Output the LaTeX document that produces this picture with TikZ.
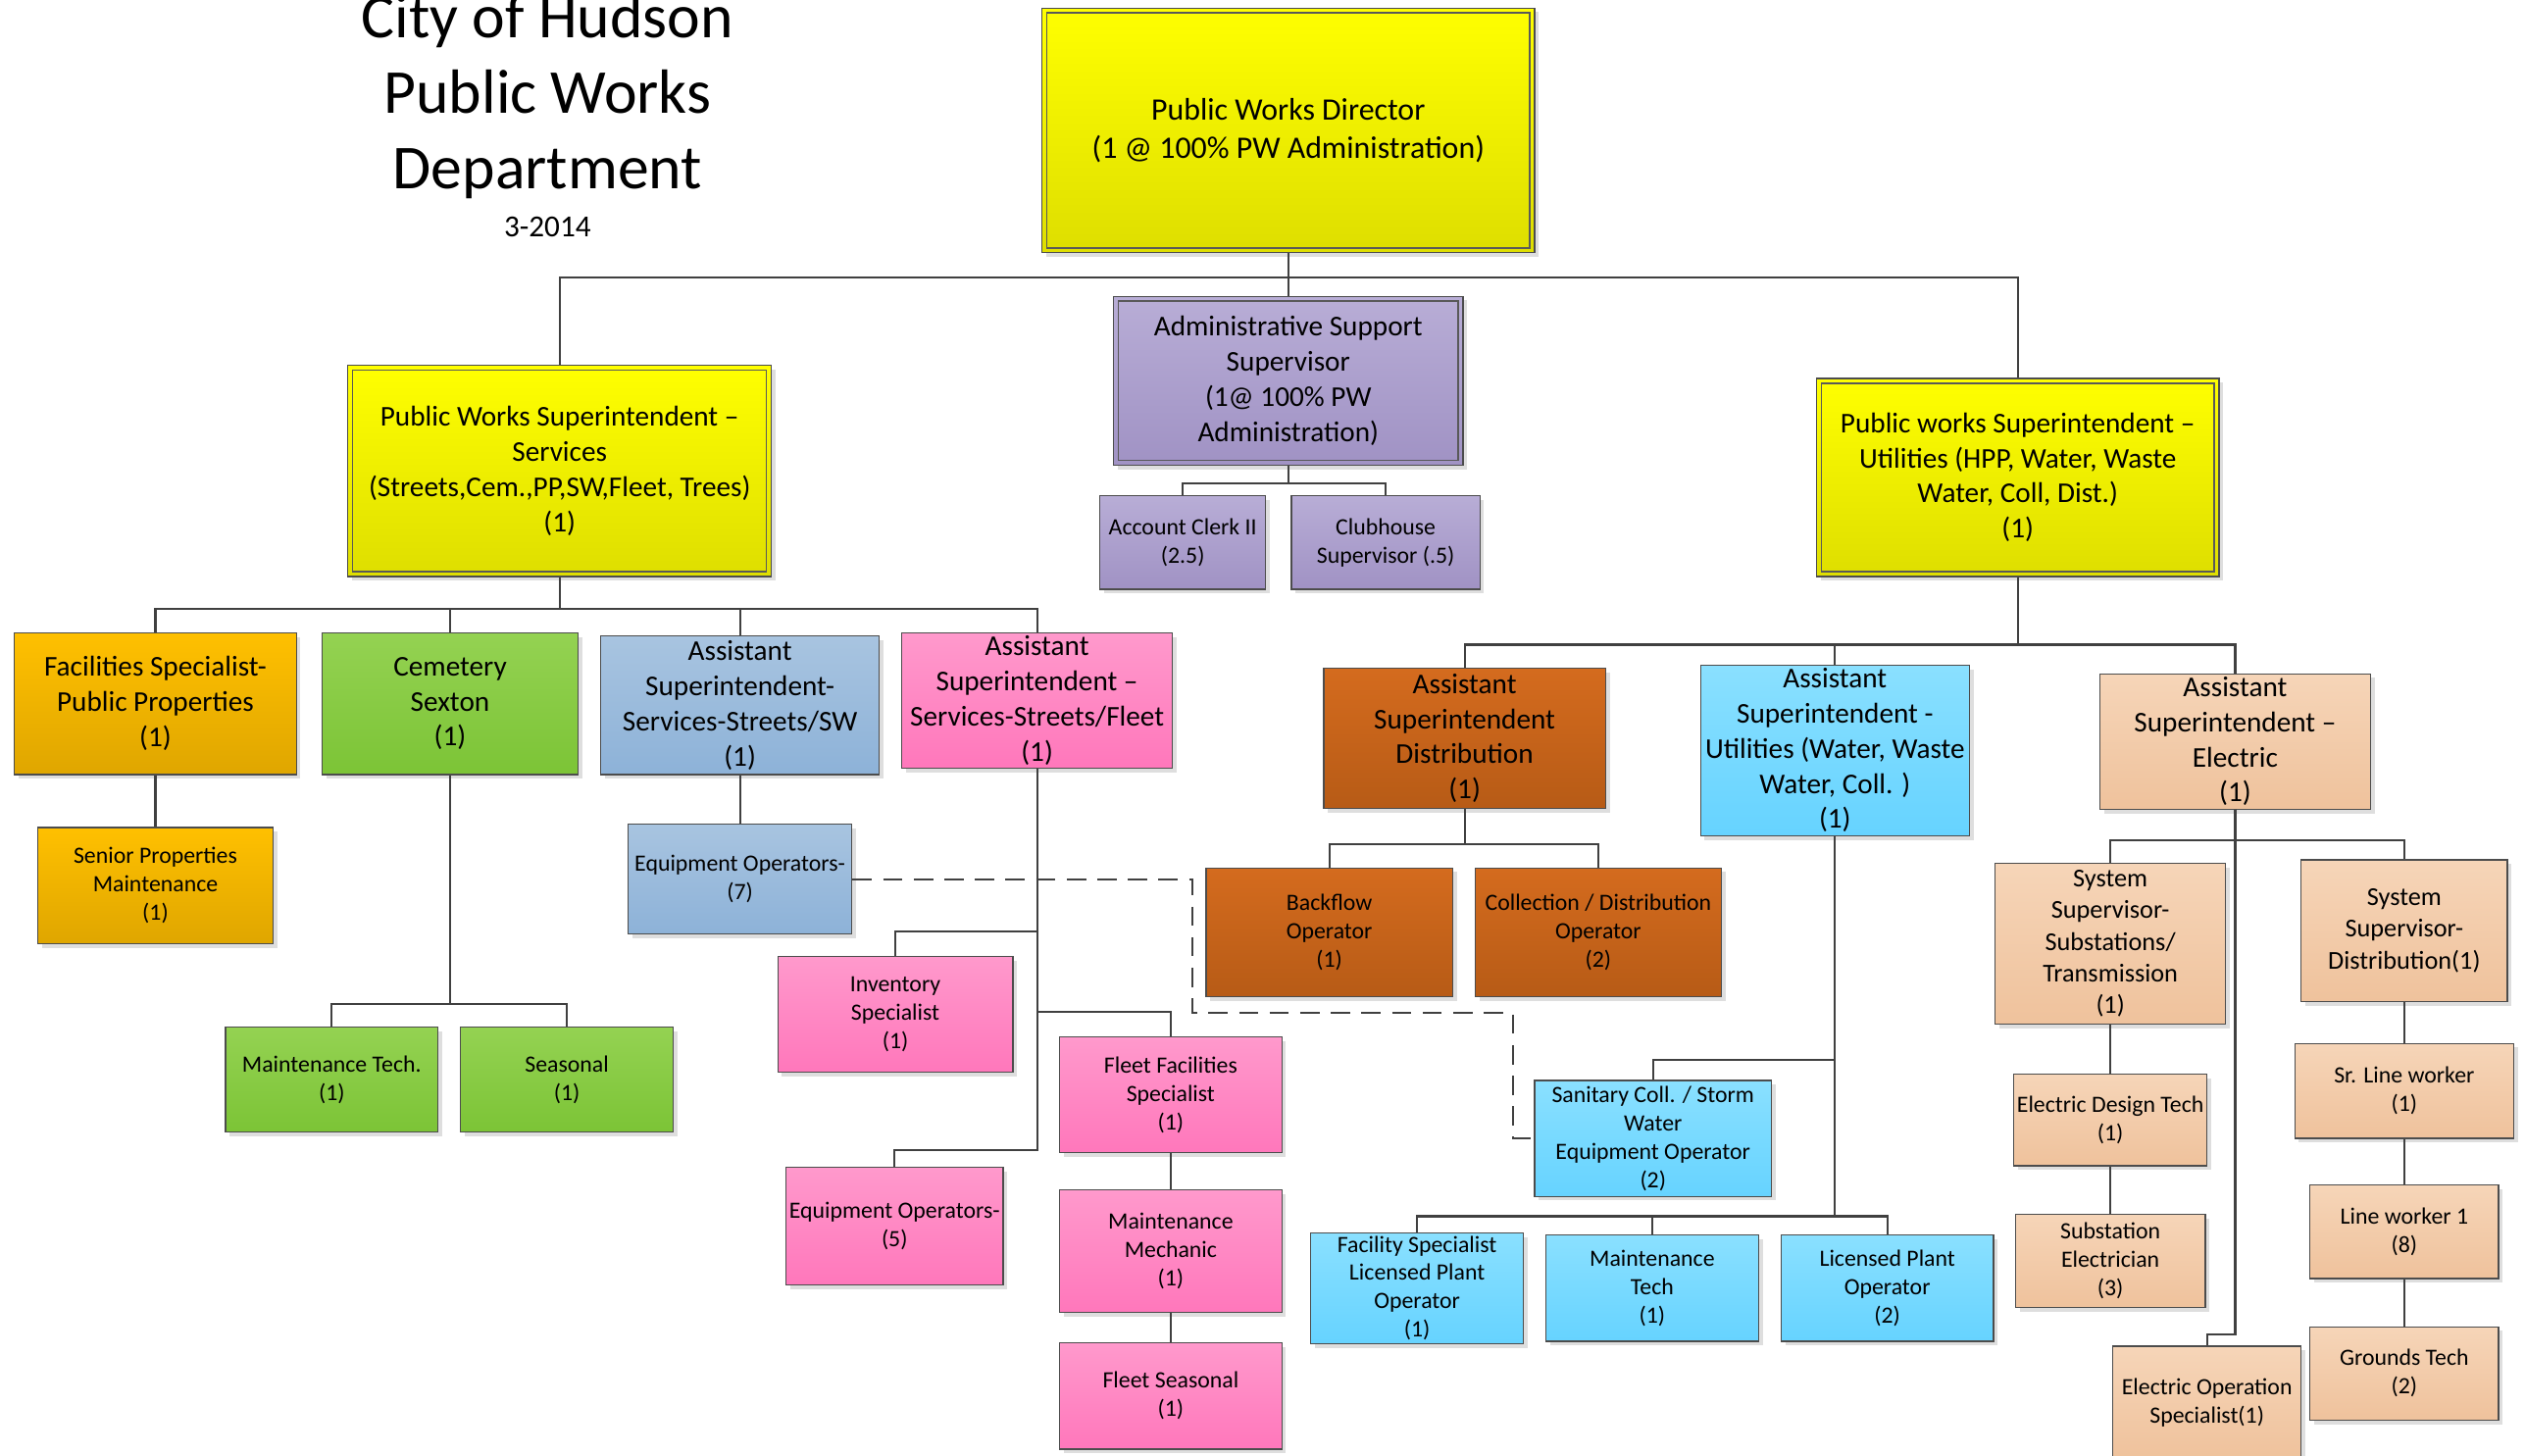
\documentclass[tikz,border=0pt]{standalone}
\usepackage{fontspec}
\setmainfont{Carlito}
\usetikzlibrary{shadows}

\definecolor{ylwTop}{HTML}{FFFF00}
\definecolor{ylwBot}{HTML}{DEDE00}
\definecolor{pplTop}{HTML}{B8ADD6}
\definecolor{pplBot}{HTML}{A092C4}
\definecolor{orgTop}{HTML}{FFC000}
\definecolor{orgBot}{HTML}{DFA600}
\definecolor{grnTop}{HTML}{94D252}
\definecolor{grnBot}{HTML}{7CC436}
\definecolor{bluTop}{HTML}{A8C4E0}
\definecolor{bluBot}{HTML}{8DB2D8}
\definecolor{pnkTop}{HTML}{FF99CC}
\definecolor{pnkBot}{HTML}{FF77BB}
\definecolor{brnTop}{HTML}{D46B1E}
\definecolor{brnBot}{HTML}{B75B16}
\definecolor{cynTop}{HTML}{8AE0FF}
\definecolor{cynBot}{HTML}{66D3FF}
\definecolor{pchTop}{HTML}{F6D5B8}
\definecolor{pchBot}{HTML}{EFC29C}

\begin{document}
\begin{tikzpicture}[
    x=0.5pt, y=-0.5pt,
    box/.style={draw=black!70, line width=0.4pt, align=center, inner sep=1pt,
        drop shadow={shadow xshift=1.3pt, shadow yshift=-1.3pt, fill=black!13, opacity=1}},
    wh/.style 2 args={minimum width=#1*0.5pt, minimum height=#2*0.5pt},
    big/.style={font=\fontsize{9.7}{12}\selectfont},
    mid/.style={font=\fontsize{8.9}{10.9}\selectfont},
    mdl/.style={font=\fontsize{8}{9.8}\selectfont},
    sml/.style={font=\fontsize{7.25}{8.8}\selectfont},
    dbl/.style={path picture={\draw[black!65, line width=0.4pt]
        ([xshift=1.5pt,yshift=-1.5pt]path picture bounding box.north west) rectangle
        ([xshift=-1.5pt,yshift=1.5pt]path picture bounding box.south east);}},
    ylw/.style={box, dbl, top color=ylwTop, bottom color=ylwBot},
    ppl/.style={box, top color=pplTop, bottom color=pplBot},
    org/.style={box, top color=orgTop, bottom color=orgBot},
    grn/.style={box, top color=grnTop, bottom color=grnBot},
    blu/.style={box, top color=bluTop, bottom color=bluBot},
    pnk/.style={box, top color=pnkTop, bottom color=pnkBot},
    brn/.style={box, top color=brnTop, bottom color=brnBot},
    cyn/.style={box, top color=cynTop, bottom color=cynBot},
    pch/.style={box, top color=pchTop, bottom color=pchBot},
    link/.style={draw=black!75, line width=0.65pt},
    dlink/.style={link, dash pattern=on 6pt off 3.5pt}
]
    \useasboundingbox (0,0) rectangle (1568,904);

    % title
    \node[align=center, font=\fontsize{19.4}{23.5}\selectfont] (ttl) at (340,60) {City of Hudson\\Public Works\\Department};
    \node[font=\fontsize{9.5}{11}\selectfont] (date) at (340,141) {3-2014};

    % top level
    \node[ylw, big, wh={306}{152}] (dir) at (800,81) {Public Works Director\\(1 @ 100\% PW Administration)};
    \node[ppl, dbl, mid, wh={217}{105}] (adm) at (800,236.5) {Administrative Support\\Supervisor\\(1@ 100\% PW\\Administration)};
    \node[ylw, mid, wh={263}{131}] (svc) at (347.5,292.5) {Public Works Superintendent –\\Services\\(Streets,Cem.,PP,SW,Fleet, Trees)\\(1)};
    \node[ylw, mid, wh={250}{123}] (utl) at (1253,296.5) {Public works Superintendent –\\Utilities (HPP, Water, Waste\\Water, Coll, Dist.)\\(1)};
    \node[ppl, sml, wh={103}{58}] (acl) at (734.5,337) {Account Clerk II\\(2.5)};
    \node[ppl, sml, wh={117}{58}] (clb) at (860.5,337) {Clubhouse\\Supervisor (.5)};

    % services side
    \node[org, mid, wh={175}{88}] (fac) at (96.5,437) {Facilities Specialist-\\Public Properties\\(1)};
    \node[grn, mid, wh={159}{88}] (cem) at (279.5,437) {Cemetery\\Sexton\\(1)};
    \node[blu, mid, wh={173}{86}] (asw) at (459.5,438) {Assistant\\Superintendent-\\Services-Streets/SW\\(1)};
    \node[pnk, mid, wh={168}{84}] (asf) at (644,435) {Assistant\\Superintendent –\\Services-Streets/Fleet\\(1)};
    \node[org, sml, wh={146}{72}] (spm) at (96.5,550) {Senior Properties\\Maintenance\\(1)};
    \node[grn, sml, wh={132}{65}] (mtc) at (206,670.5) {Maintenance Tech.\\(1)};
    \node[grn, sml, wh={132}{65}] (sea) at (352,670.5) {Seasonal\\(1)};
    \node[blu, sml, wh={139}{68}] (eq7) at (459.5,546) {Equipment Operators-\\(7)};
    \node[pnk, sml, wh={146}{72}] (inv) at (556,630) {Inventory\\Specialist\\(1)};
    \node[pnk, sml, wh={138}{72}] (ffs) at (727,680) {Fleet Facilities\\Specialist\\(1)};
    \node[pnk, sml, wh={135}{73}] (eq5) at (555.5,761.5) {Equipment Operators-\\(5)};
    \node[pnk, sml, wh={138}{76}] (mmc) at (727,777) {Maintenance\\Mechanic\\(1)};
    \node[pnk, sml, wh={138}{66}] (fse) at (727,867) {Fleet Seasonal\\(1)};

    % utilities side
    \node[brn, mid, wh={175}{87}] (dst) at (909.5,458.5) {Assistant\\Superintendent\\Distribution\\(1)};
    \node[cyn, mid, wh={167}{102}] (wat) at (1139.5,466) {Assistant\\Superintendent -\\Utilities (Water, Waste\\Water, Coll. )\\(1)};
    \node[pch, mid, wh={168}{83}] (ele) at (1388,460.5) {Assistant\\Superintendent –\\Electric\\(1)};
    \node[brn, sml, wh={153}{80}] (bfo) at (825.5,579) {Backflow\\Operator\\(1)};
    \node[brn, sml, wh={153}{80}] (cdo) at (992.5,579) {Collection / Distribution\\Operator\\(2)};
    \node[cyn, sml, wh={147}{72}] (san) at (1026.5,707) {Sanitary Coll. / Storm\\Water\\Equipment Operator\\(2)};
    \node[cyn, sml, wh={132}{66}] (fsl) at (880,800) {Facility Specialist\\Licensed Plant\\Operator\\(1)};
    \node[cyn, sml, wh={132}{66}] (mtt) at (1026,800) {Maintenance\\Tech\\(1)};
    \node[cyn, sml, wh={132}{66}] (lpo) at (1172,800) {Licensed Plant\\Operator\\(2)};
    \node[pch, mdl, wh={143}{100}] (sss) at (1310.5,586) {System\\Supervisor-\\Substations/\\Transmission\\(1)};
    \node[pch, mdl, wh={128}{88}] (ssd) at (1493,578) {System\\Supervisor-\\Distribution(1)};
    \node[pch, sml, wh={119}{57}] (edt) at (1310.5,695.5) {Electric Design Tech\\(1)};
    \node[pch, sml, wh={118}{58}] (sbe) at (1310.5,783) {Substation\\Electrician\\(3)};
    \node[pch, sml, wh={136}{59}] (slw) at (1493,677.5) {Sr. Line worker\\(1)};
    \node[pch, sml, wh={117}{58}] (lw1) at (1493,765) {Line worker 1\\(8)};
    \node[pch, sml, wh={117}{58}] (grt) at (1493,853) {Grounds Tech\\(2)};
    \node[pch, sml, wh={117}{70}] (eos) at (1370.5,871) {Electric Operation\\Specialist(1)};

    % connectors
    \draw[link] (dir.south) -- ++(0,15) -| (svc.north);
    \draw[link] (dir.south) -- ++(0,15) -| (utl.north);
    \draw[link] (dir.south) -- (adm.north);
    \draw[link] (adm.south) -- ++(0,11) -| (acl.north);
    \draw[link] (adm.south) -- ++(0,11) -| (clb.north);

    \foreach \k in {fac,cem,asw,asf}
        \draw[link] (svc.south) -- ++(0,20) -| (\k.north);
    \draw[link] (fac) -- (spm);
    \draw[link] (cem.south) -- ++(0,142) -| (mtc.north);
    \draw[link] (cem.south) -- ++(0,142) -| (sea.north);
    \draw[link] (asw) -- (eq7);
    \draw[link] (asf.south) -- ++(0,101) -| (inv.north);
    \draw[link] (asf.south) -- ++(0,151) -| (ffs.north);
    \draw[link] (asf.south) -- ++(0,237) -| (eq5.north);
    \draw[link] (ffs) -- (mmc) -- (fse);

    \foreach \k in {dst,wat,ele}
        \draw[link] (utl.south) -- ++(0,42) -| (\k.north);
    \draw[link] (dst.south) -- ++(0,22) -| (bfo.north);
    \draw[link] (dst.south) -- ++(0,22) -| (cdo.north);
    \draw[link] (wat.south) -- ++(0,139) -| (san.north);
    \foreach \k in {fsl,mtt,lpo}
        \draw[link] (wat.south) -- ++(0,236) -| (\k.north);
    \draw[link] (ele.south) -- ++(0,19) -| (sss.north);
    \draw[link] (ele.south) -- ++(0,19) -| (ssd.north);
    \draw[link] (ele.south) -- ++(0,326) -| (eos.north);
    \draw[link] (sss) -- (edt) -- (sbe);
    \draw[link] (ssd) -- (slw) -- (lw1) -- (grt);

    % shared equipment operators
    \draw[dlink] (eq7.east) -- ++(211,0) -- ++(0,83) -- ++(199,0) |- (san.west);
\end{tikzpicture}
\end{document}
